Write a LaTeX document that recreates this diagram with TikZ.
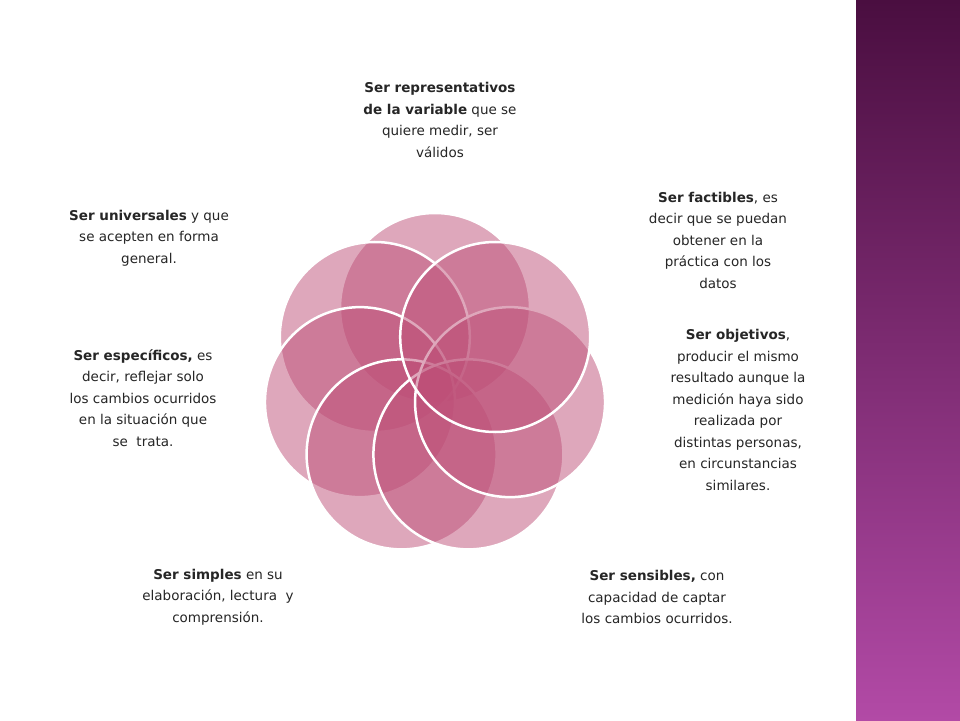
\documentclass[tikz,border=0pt]{standalone}
\usepackage{fontspec}
\setmainfont{DejaVu Sans}
\begin{document}
\begin{tikzpicture}[x=1pt,y=-1pt,
  txt/.style={align=center,font=\fontsize{13.5}{21.5}\selectfont,text=black!85,inner sep=0pt},
  petal/.style={fill={rgb,255:red,190;green,80;blue,120},fill opacity=0.5,draw=white,line width=2.5pt}]
\useasboundingbox (0,0) rectangle (960,720);
\fill[white] (0,0) rectangle (960,720);
\shade[top color={rgb,255:red,74;green,14;blue,64},bottom color={rgb,255:red,178;green,74;blue,166}] (856,0) rectangle (960,720);
\foreach \k in {0,...,6}{
  \coordinate (c\k) at ({435+77*cos(90+\k*360/7)},{385-77*sin(90+\k*360/7)});
  \node[petal,circle,minimum size=190pt] (p\k) at (c\k) {};
}
\node[txt] (t0) at (440,120) {\textbf{Ser representativos}\\\textbf{de la variable} que se\\quiere medir, ser\\válidos};
\node[txt] (t1) at (718,240) {\textbf{Ser factibles}, es\\decir que se puedan\\obtener en la\\práctica con los\\datos};
\node[txt] (t2) at (738,410) {\textbf{Ser objetivos},\\producir el mismo\\resultado aunque la\\medición haya sido\\realizada por\\distintas personas,\\en circunstancias\\similares.};
\node[txt] (t3) at (657,597) {\textbf{Ser sensibles,} con\\capacidad de captar\\los cambios ocurridos.};
\node[txt] (t4) at (218,597) {\textbf{Ser simples} en su\\elaboración, lectura\ \ y\\comprensión.};
\node[txt] (t5) at (143,398) {\textbf{Ser específicos,} es\\decir, reflejar solo\\los cambios ocurridos\\en la situación que\\se\ \ trata.};
\node[txt] (t6) at (149,238) {\textbf{Ser universales} y que\\se acepten en forma\\general.};
\end{tikzpicture}
\end{document}
